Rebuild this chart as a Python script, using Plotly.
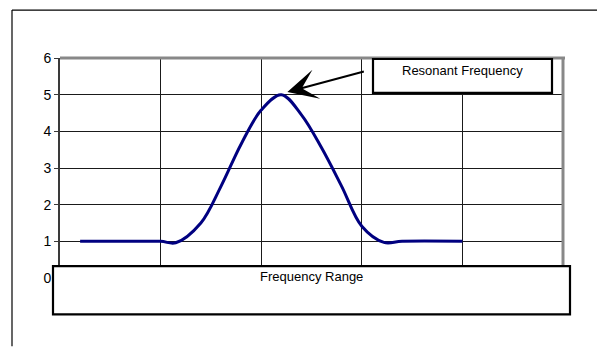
import plotly.graph_objects as go

# Response curve: frequency (axis units) vs. amplitude
freq = [0.2, 0.6, 1.0, 1.15, 1.4, 1.6, 1.8, 2.0, 2.2, 2.4, 2.6, 2.8, 3.0,
        3.22, 3.4, 4.0]
amplitude = [1.0, 1.0, 1.0, 0.96, 1.5, 2.5, 3.65, 4.58, 5.0, 4.45, 3.55, 2.5,
             1.41, 0.97, 1.0, 1.0]

x_ticks = [0, 1, 2, 3, 4, 5]
y_ticks = [0, 1, 2, 3, 4, 5, 6]

peak_label = "Resonant Frequency"
axis_label = "Frequency Range"

W, H = 597, 347
L, R, T, B = 60, 563, 58, 278.5  # plot-area edges in pixels

def px(x):
    return (x - L) / (R - L)

def py(y):
    return (B - y) / (B - T)

FONT = "Arial, Liberation Sans, sans-serif"

fig = go.Figure()
fig.add_trace(go.Scatter(
    x=freq, y=amplitude, mode="lines",
    line=dict(color="#000080", width=3, shape="spline", smoothing=1),
    hoverinfo="skip", showlegend=False,
))

grid = "#1a1a1a"
# x tick labels sit under the label box, so they are not drawn
fig.update_xaxes(
    range=[x_ticks[0], x_ticks[-1]], tickvals=x_ticks,
    showgrid=True, gridcolor=grid, gridwidth=1,
    showline=False, zeroline=False, ticks="", showticklabels=False,
)
fig.update_yaxes(
    range=[y_ticks[0], y_ticks[-1]], tickvals=y_ticks,
    showgrid=True, gridcolor=grid, gridwidth=1,
    showline=True, linecolor="#3a3a3a", linewidth=2,
    zeroline=False, ticks="outside", ticklen=4, tickcolor="#3a3a3a",
    tickfont=dict(family=FONT, size=14, color="black"),
)

shapes = [
    # outer frame (top and left edges)
    dict(type="line", xref="paper", yref="paper",
         x0=px(12), x1=px(597), y0=py(10), y1=py(10),
         line=dict(color="black", width=1.2)),
    dict(type="line", xref="paper", yref="paper",
         x0=px(12), x1=px(12), y0=py(10), y1=py(347),
         line=dict(color="black", width=1.2)),
    # plot-area border (top and right, grey)
    dict(type="line", xref="paper", yref="paper",
         x0=0, x1=px(565), y0=1, y1=1,
         line=dict(color="#888888", width=3)),
    dict(type="line", xref="paper", yref="paper",
         x0=1, x1=1, y0=0, y1=1,
         line=dict(color="#888888", width=3)),
    # label box over the x axis
    dict(type="rect", xref="paper", yref="paper", layer="above",
         x0=px(53), x1=px(570), y0=py(315), y1=py(266.5),
         fillcolor="white", line=dict(color="black", width=2.2)),
    # label box for the peak
    dict(type="rect", xref="paper", yref="paper", layer="above",
         x0=px(373), x1=px(552), y0=py(93), y1=py(59),
         fillcolor="white", line=dict(color="black", width=2.2)),
]

peak_i = amplitude.index(max(amplitude))
annotations = [
    dict(xref="paper", yref="paper", x=px(311.5), y=py(276.5),
         xanchor="center", yanchor="middle",
         text=axis_label, showarrow=False,
         font=dict(family=FONT, size=13, color="black")),
    dict(xref="paper", yref="paper", x=px(462.5), y=py(71),
         xanchor="center", yanchor="middle",
         text=peak_label, showarrow=False,
         font=dict(family=FONT, size=13, color="black")),
    dict(xref="x", yref="y", x=freq[peak_i] + 0.06, y=amplitude[peak_i] + 0.07,
         text="", showarrow=True, arrowhead=3, arrowsize=2.5, arrowwidth=2,
         arrowcolor="black", ax=78, ay=-21, standoff=0),
]

fig.update_layout(
    width=W, height=H,
    margin=dict(l=L, r=W - R, t=T, b=H - B),
    paper_bgcolor="white", plot_bgcolor="white",
    shapes=shapes, annotations=annotations,
    showlegend=False,
)

fig.write_html("out.html")
